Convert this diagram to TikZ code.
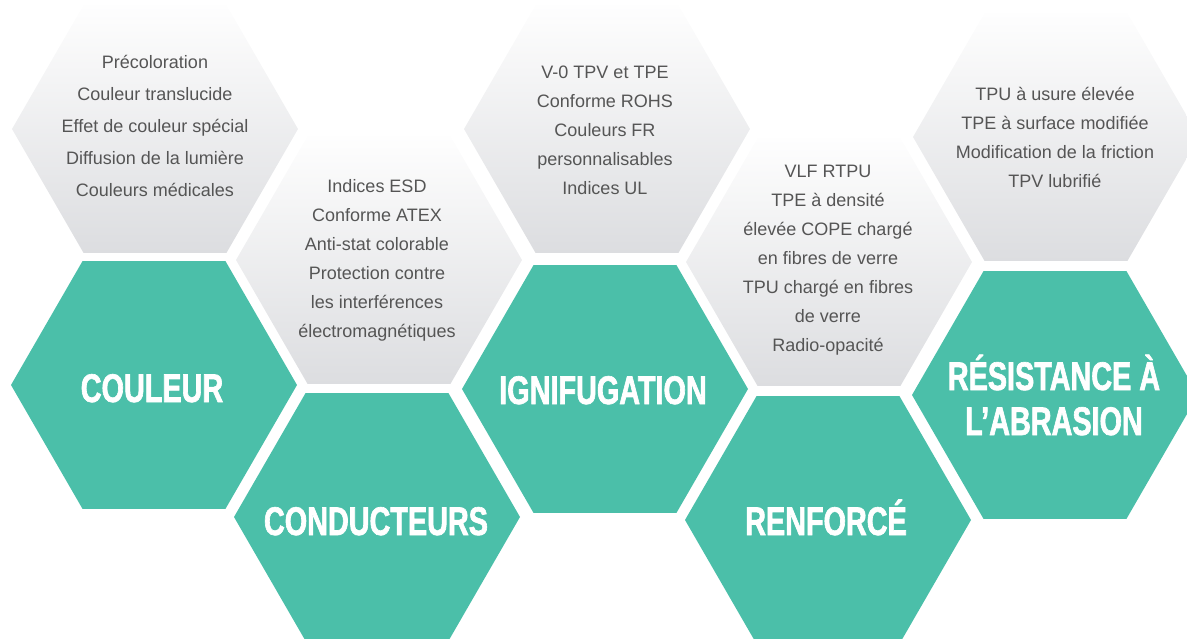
\documentclass[tikz,border=0pt]{standalone}
\usepackage{fontspec}
\setmainfont{Liberation Sans}
\newfontfamily\titlefont{Liberation Sans}[UprightFont={* Bold},FakeStretch=0.72,FakeBold=1.6]
\usetikzlibrary{shapes.geometric}
\definecolor{hexgreen}{RGB}{75,191,169}
\definecolor{graytop}{RGB}{254,254,254}
\definecolor{graybot}{RGB}{220,221,224}
\definecolor{bodygray}{RGB}{85,85,85}
\begin{document}
\begin{tikzpicture}[x=1pt,y=-1pt,
  hexa/.style={regular polygon, regular polygon sides=6, minimum size=286pt, inner sep=0pt, outer sep=0pt, draw=none},
  grayhex/.style={hexa, top color=graytop, bottom color=graybot},
  greenhex/.style={hexa, fill=hexgreen},
  body/.style={align=center, text=bodygray, inner sep=0pt, font=\fontsize{18}{29}\selectfont},
  bodywide/.style={body, font=\fontsize{18}{31.8}\selectfont},
  titletext/.style={align=center, text=white, inner sep=0pt, font=\titlefont\fontsize{40}{45}\selectfont}]
\useasboundingbox (0,0) rectangle (1187,639);
\clip (0,0) rectangle (1187,639);

% gray hexagons
\node[grayhex] (g1) at (155,129) {};
\node[grayhex] (g2) at (379,260) {};
\node[grayhex] (g3) at (607,129) {};
\node[grayhex] (g4) at (829,262) {};
\node[grayhex] (g5) at (1056,137) {};

% green hexagons
\node[greenhex] (c1) at (154,385) {};
\node[greenhex] (c2) at (377,517) {};
\node[greenhex] (c3) at (605,389) {};
\node[greenhex] (c4) at (828,520) {};
\node[greenhex] (c5) at (1055,395) {};

% body texts
\node[bodywide] (t1) at (155,126) {Précoloration\\Couleur translucide\\Effet de couleur spécial\\Diffusion de la lumière\\Couleurs médicales};
\node[body] (t2) at (377,260) {Indices ESD\\Conforme ATEX\\Anti-stat colorable\\Protection contre\\les interférences\\électromagnétiques};
\node[body] (t3) at (605,130) {V-0 TPV et TPE\\Conforme ROHS\\Couleurs FR\\personnalisables\\Indices UL};
\node[body] (t4) at (828,260) {VLF RTPU\\TPE à densité\\élevée COPE chargé\\en fibres de verre\\TPU chargé en fibres\\de verre\\Radio-opacité};
\node[body] (t5) at (1055,137) {TPU à usure élevée\\TPE à surface modifiée\\Modification de la friction\\TPV lubrifié};

% titles
\node[titletext, anchor=base] (h1) at (152,402) {COULEUR};
\node[titletext, anchor=base] (h2) at (376,535) {CONDUCTEURS};
\node[titletext, anchor=base] (h3) at (603,404) {IGNIFUGATION};
\node[titletext, anchor=base] (h4) at (826,535) {RENFORCÉ};
\node[titletext] (h5) at (1054,395) {RÉSISTANCE À\\L’ABRASION};
\end{tikzpicture}
\end{document}
